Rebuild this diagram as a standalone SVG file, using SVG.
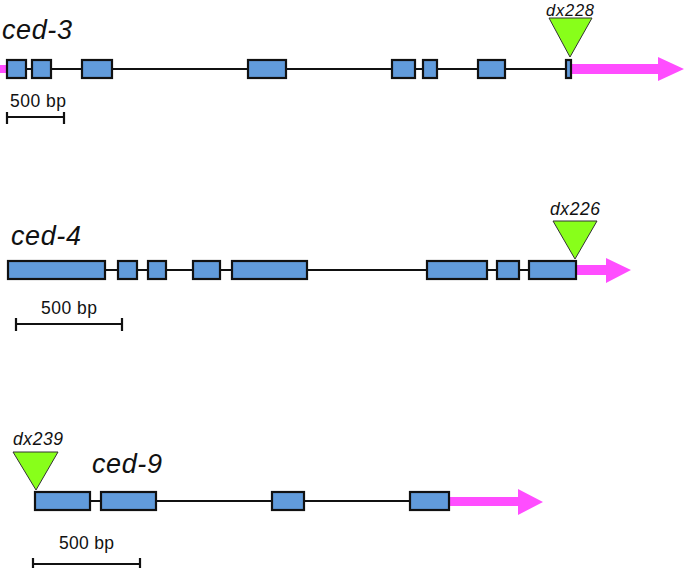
<svg xmlns="http://www.w3.org/2000/svg" width="685" height="568" viewBox="0 0 685 568">
<style>
.exon{fill:#619bdb;stroke:#111;stroke-width:2.2}
.intron{stroke:#111;stroke-width:2.2;fill:none}
.utr{fill:#ff4dff}
.ins{fill:#88ff1a;stroke:#333;stroke-width:1}
.gene{font-family:"Liberation Sans",Arial,sans-serif;font-style:italic;font-size:27px;fill:#111}
.allele{font-family:"Liberation Sans",Arial,sans-serif;font-style:italic;font-size:17.5px;fill:#111}
.sb{font-family:"Liberation Sans",Arial,sans-serif;font-size:17.5px;fill:#111}
.bar{stroke:#111;stroke-width:2.2;fill:none}
</style>
<rect width="685" height="568" fill="#fff"/>
<g id="connectors">
<line class="intron" x1="7" y1="69" x2="566" y2="69"/>
<line class="intron" x1="8" y1="270" x2="529" y2="270"/>
<line class="intron" x1="35" y1="501" x2="410" y2="501"/>
</g>
<g id="ced-3">
<text class="gene" x="2" y="39" textLength="70" lengthAdjust="spacing">ced-3</text>
<rect class="utr" x="0" y="65" width="7" height="8"/>
<polygon class="utr" points="571,64 658,64 658,57 684,69 658,81 658,74 571,74"/>
<rect class="exon" x="7" y="60" width="19" height="18"/>
<rect class="exon" x="32" y="60" width="19" height="18"/>
<rect class="exon" x="82" y="60" width="30" height="18"/>
<rect class="exon" x="248" y="60" width="38" height="18"/>
<rect class="exon" x="392" y="60" width="23" height="18"/>
<rect class="exon" x="423" y="60" width="14" height="18"/>
<rect class="exon" x="478" y="60" width="27" height="18"/>
<rect class="exon" x="566" y="60" width="5" height="18"/>
</g>
<g id="dx228">
<polygon class="ins" points="549,18 592,18 570,57"/>
<text class="allele" x="570" y="15.5" text-anchor="middle" textLength="48" lengthAdjust="spacing" style="font-size:16.5px">dx228</text>
</g>
<g id="scale-3">
<path class="bar" d="M7,117 H64 M7,112 V124 M64,112 V124"/>
<text class="sb" x="10" y="107" textLength="56" lengthAdjust="spacing">500 bp</text>
</g>
<g id="ced-4">
<text class="gene" x="11" y="245" textLength="70" lengthAdjust="spacing">ced-4</text>
<polygon class="utr" points="576,265 606,265 606,258 631,270 606,283 606,275 576,275"/>
<rect class="exon" x="8" y="261" width="97" height="18"/>
<rect class="exon" x="118" y="261" width="19" height="18"/>
<rect class="exon" x="148" y="261" width="18" height="18"/>
<rect class="exon" x="193" y="261" width="27" height="18"/>
<rect class="exon" x="232" y="261" width="75" height="18"/>
<rect class="exon" x="427" y="261" width="60" height="18"/>
<rect class="exon" x="497" y="261" width="22" height="18"/>
<rect class="exon" x="529" y="261" width="47" height="18"/>
</g>
<g id="dx226">
<polygon class="ins" points="553,221 597,221 575,259"/>
<text class="allele" x="575" y="215" text-anchor="middle" textLength="50" lengthAdjust="spacing">dx226</text>
</g>
<g id="scale-4">
<path class="bar" d="M16,324 H122 M16,318 V331 M122,318 V331"/>
<text class="sb" x="41" y="314" textLength="56" lengthAdjust="spacing">500 bp</text>
</g>
<g id="ced-9">
<text class="gene" x="92" y="473" textLength="70" lengthAdjust="spacing">ced-9</text>
<polygon class="utr" points="449,497 518,497 518,489 543,502 518,515 518,506 449,506"/>
<rect class="exon" x="35" y="492" width="55" height="18"/>
<rect class="exon" x="101" y="492" width="55" height="18"/>
<rect class="exon" x="272" y="492" width="32" height="18"/>
<rect class="exon" x="410" y="492" width="39" height="18"/>
</g>
<g id="dx239">
<polygon class="ins" points="13,452 58,452 36,490"/>
<text class="allele" x="38" y="445" text-anchor="middle" textLength="50" lengthAdjust="spacing">dx239</text>
</g>
<g id="scale-9">
<path class="bar" d="M33,564 H140 M33,558 V568 M140,558 V568"/>
<text class="sb" x="59" y="549" textLength="55" lengthAdjust="spacing">500 bp</text>
</g>
</svg>
